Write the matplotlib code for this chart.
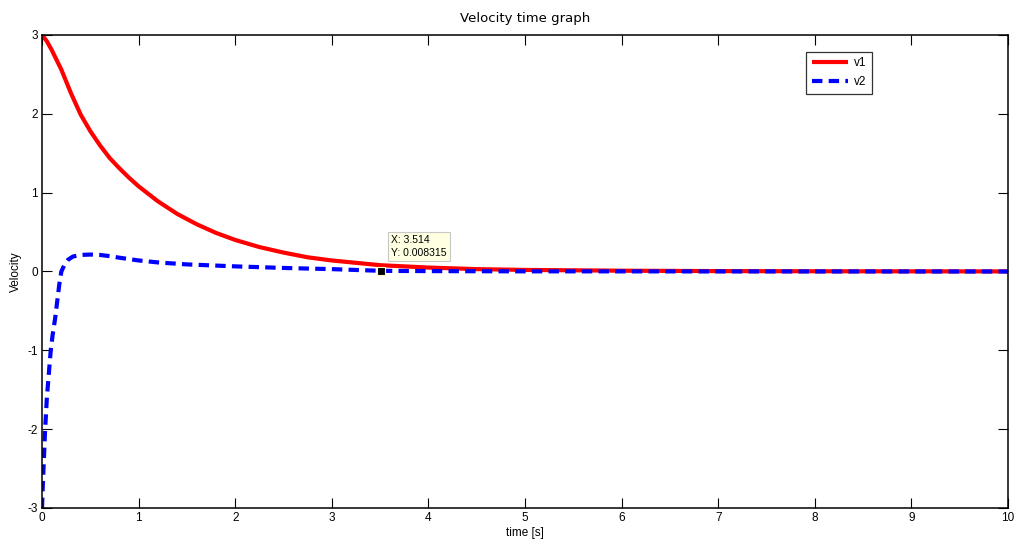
import numpy as np
import matplotlib.pyplot as plt

# valores
t1 = [0, 0.05, 0.1, 0.2, 0.3, 0.4, 0.5, 0.6, 0.7, 0.8, 0.9, 1.0, 1.2, 1.4, 1.6, 1.8,
      2.0, 2.25, 2.5, 2.75, 3.0, 3.25, 3.5, 4.0, 4.5, 5.0, 6.0, 7.0, 8.0, 9.0, 10.0]
v1 = [3.0, 2.92, 2.81, 2.56, 2.26, 1.99, 1.78, 1.6, 1.44, 1.31, 1.19, 1.08, 0.89, 0.73,
      0.6, 0.49, 0.4, 0.31, 0.24, 0.18, 0.14, 0.11, 0.08, 0.05, 0.03, 0.02, 0.01,
      0.005, 0.003, 0.002, 0.001]

t2 = [0, 0.005, 0.015, 0.03, 0.05, 0.07, 0.09, 0.11, 0.135, 0.16, 0.18, 0.2, 0.23,
      0.27, 0.32, 0.4, 0.5, 0.6, 0.7, 0.8, 1.0, 1.2, 1.5, 2.0, 2.5, 3.0, 3.514, 4.0,
      5.0, 7.0, 10.0]
v2 = [-3.0, -2.8, -2.5, -2.05, -1.6, -1.3, -1.0, -0.8, -0.6, -0.35, -0.15, 0.0, 0.08,
      0.15, 0.19, 0.21, 0.215, 0.21, 0.195, 0.175, 0.14, 0.115, 0.09, 0.065, 0.045,
      0.03, 0.008315, 0.005, 0.002, 0.001, 0.0]

tip_x = 3.514
tip_y = 0.008315

plt.rcParams['font.family'] = ['Liberation Sans', 'DejaVu Sans']
plt.rcParams['axes.unicode_minus'] = False

fig = plt.figure(figsize=(10.18, 5.46), dpi=100)
ax = fig.add_axes([0.0413, 0.0696, 0.9489, 0.8663])

ax.plot(t1, v1, color='#ff0000', lw=3.0, label='v1', solid_capstyle='butt')
ax.plot(t2, v2, color='#0000ff', lw=3.0, ls=(0, (2.5, 1.5)), label='v2')

ax.set_xlim(0, 10)
ax.set_ylim(-3, 3)
ax.set_xticks(np.arange(0, 11, 1))
ax.set_yticks(np.arange(-3, 4, 1))
ax.tick_params(direction='in', top=True, right=True, length=7, width=0.8,
               labelsize=8.5, colors='black', pad=3)
for s in ax.spines.values():
    s.set_linewidth(1.1)

ax.set_xlabel('time [s]', fontsize=8.5, labelpad=2)
ax.set_ylabel('Velocity', fontsize=8.5, labelpad=4)
ax.set_title('Velocity time graph', fontsize=9.5, family='DejaVu Sans', pad=9)

leg = ax.legend(loc='upper right', bbox_to_anchor=(0.859, 0.964), fontsize=8.5,
                frameon=True, fancybox=False, handlelength=3.1, handletextpad=0.5,
                borderpad=0.45, labelspacing=0.6, borderaxespad=0)
leg.get_frame().set_edgecolor('black')
leg.get_frame().set_linewidth(0.9)

# data tip
ax.plot([tip_x], [tip_y], marker='s', ms=6, color='black', mec='#ffffc0', mew=0.8, zorder=5)
ax.annotate('X: %.3f\nY: %s' % (tip_x, tip_y), xy=(tip_x, tip_y), xytext=(7, 9.5),
            textcoords='offset points', fontsize=7.5, va='bottom', ha='left',
            linespacing=1.3,
            bbox=dict(boxstyle='square,pad=0.35', fc='#ffffe1', ec='#c8c8c8', lw=0.8),
            zorder=6)

plt.savefig('out.png', dpi=100)
